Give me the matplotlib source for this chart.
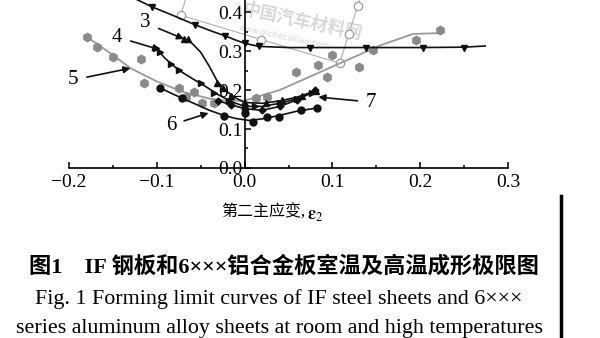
import numpy as np
import matplotlib.pyplot as plt
from matplotlib.ticker import MultipleLocator
from matplotlib.lines import Line2D

# curve 2 (top, down triangles)
c2_line_x = [-0.13, -0.105, -0.08, -0.056, -0.035, -0.022, -0.01, 0.0, 0.016, 0.05, 0.1, 0.15, 0.2, 0.25, 0.274]
c2_line_y = [0.44, 0.413, 0.39, 0.367, 0.349, 0.339, 0.328, 0.32, 0.312, 0.309, 0.309, 0.309, 0.309, 0.31, 0.313]
c2_mx = [-0.105, -0.056, -0.022, 0.0, 0.016, 0.075, 0.138, 0.203, 0.25]
c2_my = [0.413, 0.367, 0.339, 0.32, 0.312, 0.308, 0.309, 0.308, 0.308]

# curve 3
c3_line_x = [-0.069, -0.06, -0.05, -0.04, -0.031, -0.022, -0.012, 0.0, 0.02, 0.04, 0.06, 0.081]
c3_line_y = [0.331, 0.32, 0.297, 0.26, 0.222, 0.2, 0.182, 0.168, 0.166, 0.172, 0.182, 0.198]
c3_mx = [-0.069, -0.064, -0.031, -0.025, -0.015, 0.0, 0.024, 0.043, 0.065, 0.081]
c3_my = [0.331, 0.33, 0.218, 0.205, 0.185, 0.168, 0.168, 0.174, 0.184, 0.198]

# curve 4
c4_line_x = [-0.101, -0.09, -0.075, -0.06, -0.045, -0.03, -0.015, 0.0, 0.02, 0.04, 0.06, 0.077]
c4_line_y = [0.307, 0.28, 0.251, 0.23, 0.21, 0.188, 0.17, 0.158, 0.158, 0.166, 0.178, 0.192]
c4_mx = [-0.101, -0.096, -0.084, -0.075, -0.05, -0.035, -0.018, 0.0, 0.012, 0.04, 0.06, 0.077]
c4_my = [0.307, 0.298, 0.268, 0.251, 0.218, 0.192, 0.172, 0.158, 0.16, 0.167, 0.178, 0.192]

# curve 5 (grey)
c5_line_x = [-0.182, -0.15, -0.13, -0.1, -0.07, -0.04, -0.02, 0.0, 0.04, 0.08, 0.11, 0.155, 0.192, 0.222]
c5_line_y = [0.34, 0.29, 0.256, 0.222, 0.195, 0.178, 0.172, 0.173, 0.2, 0.24, 0.27, 0.315, 0.344, 0.346]
c5_mx = [-0.179, -0.168, -0.15, -0.118, -0.115, -0.075, -0.067, -0.058, -0.048, -0.035,
         0.0125, 0.026, 0.058, 0.084, 0.094, 0.1, 0.13, 0.146, 0.195, 0.222]
c5_my = [0.336, 0.31, 0.284, 0.279, 0.218, 0.205, 0.182, 0.195, 0.167, 0.167,
         0.18, 0.182, 0.246, 0.264, 0.233, 0.29, 0.26, 0.303, 0.328, 0.354]

# curve 6
c6_line_x = [-0.096, -0.08, -0.06, -0.04, -0.024, -0.01, 0.005, 0.02, 0.04, 0.06, 0.083]
c6_line_y = [0.205, 0.188, 0.168, 0.148, 0.135, 0.127, 0.122, 0.126, 0.135, 0.146, 0.154]
c6_mx = [-0.096, -0.071, -0.024, 0.0, 0.01, 0.026, 0.039, 0.064, 0.083]
c6_my = [0.205, 0.179, 0.133, 0.14, 0.118, 0.131, 0.131, 0.149, 0.154]

# curve 7
c7_x = [-0.03, -0.015, 0.0, 0.02, 0.04, 0.06, 0.08]
c7_y = [0.172, 0.162, 0.152, 0.148, 0.158, 0.175, 0.2]

# curve labels: text position, arrow tip
labels = ['3', '4', '5', '6', '7']
label_xy = [(-0.113, 0.372), (-0.145, 0.336), (-0.195, 0.226), (-0.084, 0.110), (0.144, 0.169)]
tip_xy = [(-0.069, 0.331), (-0.096, 0.303), (-0.130, 0.256), (-0.041, 0.141), (0.084, 0.182)]

# watermark selection frame
box_x = [-0.0524, -0.0729, 0.1082, 0.149]
box_y = [0.538, 0.392, 0.269, 0.562]
handle_x = [-0.0729, 0.0182, 0.1082, 0.1185, 0.1287]
handle_y = [0.392, 0.328, 0.269, 0.344, 0.415]

serif = ['Liberation Serif', 'Noto Sans CJK SC']
plt.rcParams['mathtext.fontset'] = 'stix'

fig = plt.figure(figsize=(6, 3.38), dpi=100)
ax = fig.add_axes([0.115, 0.503, 0.7317, 0.497])

# watermark
ax.plot(box_x, box_y, color='#b0b0b0', lw=0.8, zorder=1)
ax.plot(handle_x, handle_y, 'o', ms=6, mfc='white', mec='#a0a0a0', mew=0.9, zorder=1)
ax.text(0.066, 0.376, '中国汽车材料网', family=['Noto Sans CJK SC'], fontsize=12.5, fontweight='bold',
        color='#d8d8d8', rotation=-12, ha='center', va='center', zorder=0)
ax.text(0.045, 0.335, 'www.qichecailiao.com', fontsize=6, color='#d8d8d8', rotation=-12,
        ha='center', va='center', zorder=0)

k = '#111111'
ax.plot(c5_line_x, c5_line_y, color='#9a9a9a', lw=1.3, zorder=2)
ax.plot(c5_mx, c5_my, 'h', ms=6, color='#8a8a8a', zorder=2)

ax.plot(c2_line_x, c2_line_y, color=k, lw=1.2, zorder=3)
ax.plot(c2_mx, c2_my, 'v', ms=5, color=k, zorder=3)
ax.plot(c3_line_x, c3_line_y, color=k, lw=1.2, zorder=3)
ax.plot(c3_mx, c3_my, '^', ms=5, color=k, zorder=3)
ax.plot(c4_line_x, c4_line_y, color=k, lw=1.2, zorder=3)
ax.plot(c4_mx, c4_my, '>', ms=5, color=k, zorder=3)
ax.plot(c6_line_x, c6_line_y, color=k, lw=1.2, zorder=3)
ax.plot(c6_mx, c6_my, 'o', ms=5, color=k, zorder=3)
ax.plot(c7_x, c7_y, '-D', ms=3.5, lw=1.2, color=k, zorder=3)

for lab, (tx, ty), (px, py) in zip(labels, label_xy, tip_xy):
    ax.annotate(lab, xy=(px, py), xytext=(tx, ty), ha='center', va='center',
                family=serif, fontsize=15,
                arrowprops=dict(arrowstyle='-|>', color=k, lw=1.2, mutation_scale=10,
                                shrinkA=4, shrinkB=0))

ax.set_xlim(-0.2, 0.3)
ax.set_ylim(0, 0.431)
ax.spines['left'].set_position(('data', 0))
ax.spines['top'].set_visible(False)
ax.spines['right'].set_visible(False)
for s in ('left', 'bottom'):
    ax.spines[s].set_linewidth(1.2)
ax.patch.set_visible(False)

ax.xaxis.set_major_locator(MultipleLocator(0.1))
ax.xaxis.set_minor_locator(MultipleLocator(0.05))
ax.yaxis.set_major_locator(MultipleLocator(0.1))
ax.yaxis.set_minor_locator(MultipleLocator(0.05))
ax.tick_params(which='both', direction='in', width=1.1)
ax.tick_params(which='major', length=4)
ax.tick_params(which='minor', length=2.5)
ax.tick_params(axis='x', which='major', pad=4)
ax.tick_params(axis='y', which='major', pad=1.5)
ax.set_xticklabels([f'{v:.1f}'.replace('-', '\u2212') for v in ax.get_xticks()])
ax.set_yticklabels([f'{v:.1f}' for v in ax.get_yticks()])
for t in ax.get_xticklabels() + ax.get_yticklabels():
    t.set_family(serif)
    t.set_fontsize(14)

# x axis label: CJK part and the strain symbol as separate texts
fig.text(0.508, 0.37, '第二主应变,', family=serif, fontsize=11.5, ha='right', va='center')
fig.text(0.512, 0.365, '$\\boldsymbol{\\varepsilon}_2$', fontsize=13, ha='left', va='center')

fig.text(0.473, 0.21, '图1　IF 钢板和6×××铝合金板室温及高温成形极限图', family=serif,
         fontsize=16, fontweight='bold', ha='center', va='center')
fig.text(0.465, 0.115, 'Fig. 1 Forming limit curves of IF steel sheets and 6×××', family=serif,
         fontsize=15.8, ha='center', va='center')
fig.text(0.465, 0.027, 'series aluminum alloy sheets at room and high temperatures', family=serif,
         fontsize=15.8, ha='center', va='center')

fig.add_artist(Line2D([0.9345, 0.9345], [0.0, 0.42], transform=fig.transFigure, color='black', lw=2.5))

fig.savefig('out.png', dpi=100)
